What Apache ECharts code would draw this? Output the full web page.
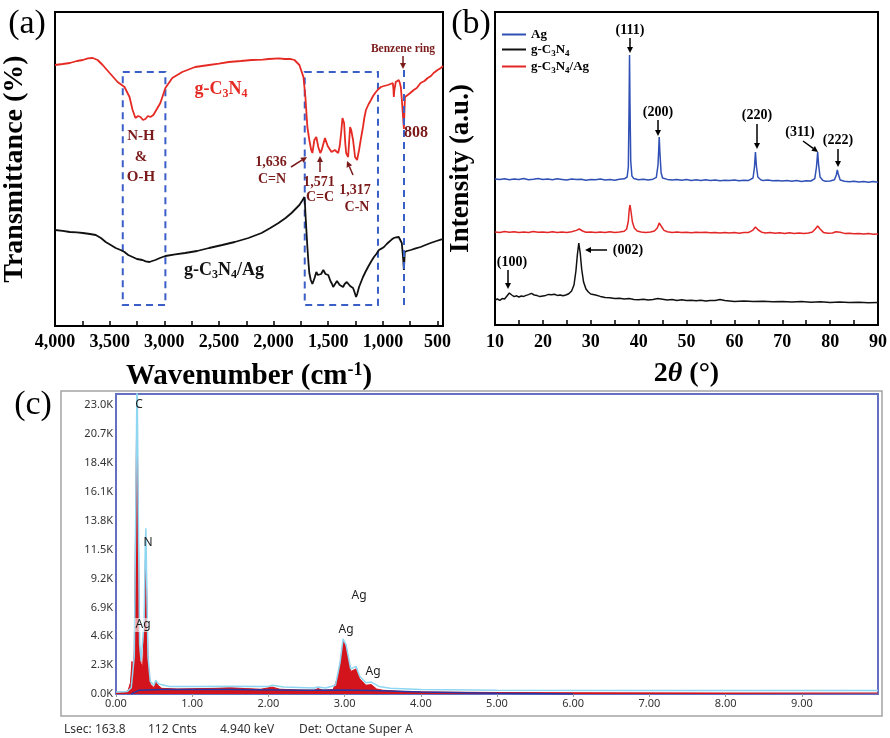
<!DOCTYPE html>
<html><head><meta charset="utf-8">
<script src="https://cdn.jsdelivr.net/npm/echarts@6/dist/echarts.min.js"></script>
<style>html,body{margin:0;padding:0;background:#fff}#c{width:890px;height:738px}</style>
</head><body><div id="c"></div>
<script>
// ---------- Panel (a) FTIR: [wavenumber cm-1, transmittance a.u.] ----------
const ftirGC3N4 = [[4000,130.5],[3930,131],[3864,131.5],[3800,132.5],[3745,133],[3700,133.8],[3655,134],[3610,133],[3564,130.5],[3500,126.5],[3427,122],[3364,119.5],[3318,114.5],[3290,108],[3264,104],[3240,105],[3218,104.5],[3195,103],[3173,103.5],[3150,105],[3127,104.5],[3100,105.5],[3082,106.5],[3036,111.5],[2990,119],[2927,124],[2836,127],[2718,129.5],[2590,130.5],[2500,131.2],[2410,132],[2300,132.5],[2200,133],[2100,133.2],[2045,133.5],[1950,133.8],[1900,133.5],[1850,133.6],[1809,133],[1764,130.5],[1727,124.5],[1709,114.5],[1691,99.5],[1673,93],[1656,88],[1645,86.5],[1636,87],[1627,93],[1609,94.5],[1591,89.5],[1573,86.5],[1560,88],[1545,91],[1530,94],[1518,93],[1505,90],[1491,89.5],[1470,87],[1455,86.5],[1440,88],[1427,89],[1409,86.5],[1395,90],[1382,96.5],[1370,104],[1364,104.5],[1355,101.5],[1345,92],[1336,86.5],[1318,84.5],[1309,92],[1300,99.5],[1290,98],[1273,93],[1262,88],[1255,84.5],[1236,83],[1218,88],[1200,94],[1182,99.5],[1170,104],[1155,108],[1130,111],[1109,113],[1090,115],[1064,117],[1040,118.5],[1018,119.5],[990,120],[955,120.5],[930,121],[909,121.5],[903,118],[900,114.5],[895,118],[882,122],[870,122.5],[855,123],[845,121.5],[836,119.5],[825,112],[815,104],[808,98.5],[803,107],[798,114.5],[790,115],[773,115.5],[750,116.5],[718,118],[690,119],[655,121.5],[620,122.5],[590,124],[560,125],[536,126.5],[500,128],[470,129],[450,130]];
const ftirGC3N4Ag = [[4000,48],[3930,47.6],[3864,47],[3800,46.8],[3745,46.5],[3680,46],[3627,45.5],[3580,44],[3536,42],[3490,40.5],[3445,39],[3400,38],[3364,37],[3330,35.5],[3290,34.5],[3250,33.5],[3200,33],[3170,32.3],[3136,32],[3110,32.5],[3082,33],[3040,34],[2990,35],[2900,35.8],[2810,36.5],[2700,37.5],[2590,39],[2470,40.5],[2355,42],[2230,44],[2110,46.5],[2030,49],[1955,51.5],[1890,54],[1836,56.5],[1800,58.5],[1764,60.5],[1740,62.5],[1718,64.5],[1712,60],[1709,56.5],[1700,48],[1691,39.5],[1680,31],[1673,26.5],[1660,23],[1645,21],[1636,20.5],[1625,24],[1609,27],[1595,25.5],[1582,26.5],[1565,26],[1545,28],[1525,26],[1500,25.5],[1480,22.5],[1465,21],[1455,19.5],[1440,20.5],[1420,22.5],[1409,22],[1395,20.5],[1380,19.8],[1364,19.5],[1350,21],[1330,22],[1318,21.5],[1300,20],[1285,19.8],[1273,19],[1260,17],[1245,14.5],[1235,16],[1218,19.5],[1200,22],[1182,24.5],[1160,27],[1136,29.5],[1110,32],[1082,34.5],[1060,36],[1036,38],[1010,38.8],[990,39.5],[965,41],[945,42],[920,43.2],[900,44],[880,44.3],[855,44.5],[840,43.5],[827,41.5],[815,34],[808,28],[803,33],[800,37],[780,37.5],[745,38],[700,38.8],[655,39.5],[610,40.5],[564,41.5],[510,42.5],[470,43.2],[450,43.5]];
const ftirBoxes = [[3380,127,2990,10.5],[1715,127,1045,10.5]];
const ftirBenzeneLine = [808,10.5,129];
const ftirTickLabels = [4000,3500,3000,2500,2000,1500,1000,500];
const ftirTicks = [500,750,1000,1250,1500,1750,2000,2250,2500,2750,3000,3250,3500,3750,4000];

// ---------- Panel (b) XRD: [2theta deg, intensity a.u.] ----------
const xrdAg = [[10,73],[11,72.7],[12,73.1],[13,72.6],[14,73],[15,72.8],[16,73.2],[17,72.6],[18,72.9],[19,73.3],[20,72.7],[21,73],[22,72.6],[23,73.1],[24,72.8],[25,72.5],[26,73],[27,72.7],[28,72.9],[29,72.4],[30,72.8],[31,72.6],[32,73],[33,72.5],[34,72.8],[35,72.4],[36,72.9],[37,73.1],[37.6,74],[37.85,79],[38.0,108],[38.1,135],[38.2,110],[38.35,82],[38.6,74.5],[39,73.2],[40,72.6],[41,72.9],[42,72.5],[43,72.9],[43.7,73.8],[44.05,80],[44.2,88],[44.3,94],[44.45,86],[44.7,76],[45,73.5],[46,72.8],[47,72.5],[48,72.8],[49,72.4],[50,72.7],[51,72.3],[52,72.6],[53,72.2],[54,72.6],[55,72.3],[56,72.5],[57,72.1],[58,72.4],[59,72.2],[60,72.5],[61,72.1],[62,72.4],[63,72.3],[63.9,73.5],[64.2,79],[64.4,86.5],[64.6,79.5],[64.9,74],[65.5,72.6],[66,72.2],[67,72.5],[68,72.1],[69,72.3],[70,72],[71,72.3],[72,71.9],[73,72.2],[74,71.8],[75,72.1],[76,72],[76.8,73.2],[77.15,79],[77.4,86.5],[77.6,80],[77.9,74],[78.5,72.3],[79,71.9],[80,72],[80.9,72.6],[81.3,75],[81.5,77.5],[81.7,75.5],[82.1,72.5],[83,71.9],[84,71.6],[85,71.9],[86,71.5],[87,71.8],[88,71.4],[89,71.7],[90,71.4]];
const xrdGC3N4Ag = [[10,46.5],[11,46.3],[12,46.7],[13,46.4],[14,46.6],[15,46.2],[16,46.5],[17,46.3],[18,46.7],[19,46.4],[20,46.5],[21,46.2],[22,46.6],[23,46.3],[24,46.5],[25,46.3],[26,46.6],[27,47.3],[27.6,48],[28.3,47],[29,46.4],[30,46.5],[31,46.2],[32,46.5],[33,46.3],[34,46.6],[35,46.3],[36,46.5],[37,46.9],[37.5,48],[37.85,52],[38.05,58],[38.2,60],[38.4,57],[38.7,51.5],[39.1,48.5],[39.7,47],[40.5,46.5],[41.5,46.3],[42.5,46.5],[43.3,47],[43.9,48.5],[44.3,51],[44.7,49.5],[45.3,47.3],[46,46.6],[47,46.3],[48,46.5],[49,46.2],[50,46.4],[51,46.1],[52,46.4],[53,46.2],[54,46.4],[55,46.1],[56,46.3],[57,46],[58,46.3],[59,46],[60,46.2],[61,45.9],[62,46.2],[63,46.3],[63.8,47.3],[64.4,49],[65,47.5],[65.7,46.4],[66.5,46],[67.5,46.2],[68.5,45.9],[69.5,46.1],[70.5,45.8],[71.5,46.1],[72.5,45.8],[73.5,46],[74.5,45.8],[75.5,46],[76.3,46.5],[76.9,48],[77.4,49.5],[77.9,48],[78.6,46.3],[79.5,45.9],[80.5,46],[81.2,46.6],[81.6,47],[82.1,46.4],[83,45.8],[84,45.9],[85,45.6],[86,45.8],[87,45.5],[88,45.7],[89,45.4],[90,45.5]];
const xrdGC3N4 = [[10,12.5],[10.5,13],[11,12.3],[11.5,13.2],[12,13],[12.5,14.5],[13,16],[13.5,15],[14,14.2],[14.5,14.6],[15,14],[15.5,14.5],[16,14.3],[16.5,14.8],[17,15.2],[17.6,15.8],[18.2,15],[18.8,14.7],[19.4,14.2],[20,14.5],[20.6,14.8],[21.2,15.3],[21.8,15.1],[22.4,15.4],[23,14.8],[23.6,15],[24.2,14.6],[24.8,15],[25.4,15.6],[26,17],[26.5,20],[26.9,27],[27.2,35],[27.5,41],[27.8,36],[28.1,28],[28.5,21.5],[29,18],[29.5,16.5],[30,15.5],[31,15],[32,14.3],[33,13.8],[34,13.6],[35,13.2],[36,13.4],[37,13],[38,13.2],[39,12.8],[40,12.6],[41,12.9],[42,12.5],[43,12.8],[44,13.2],[45,12.9],[46,12.5],[47,12.7],[48,12.3],[49,12.6],[50,12.2],[51,12.4],[52,12.1],[53,12.4],[54,12],[55,12.3],[56,12.2],[57,12.7],[58,12.2],[59,12],[60,11.8],[62,12],[64,11.7],[66,11.9],[68,11.6],[70,11.8],[72,11.5],[74,11.7],[76,11.4],[78,11.6],[80,11.3],[82,11.5],[84,11.2],[86,11.4],[88,11.1],[90,11.2]];
const xrdTicks = [10,15,20,25,30,35,40,45,50,55,60,65,70,75,80,85,90];

// ---------- Panel (c) EDS: [energy keV, counts] ----------
const edsCounts = [[0,80],[0.12,100],[0.16,300],[0.19,900],[0.21,2600],[0.225,1200],[0.24,3500],[0.255,12000],[0.27,21000],[0.277,21800],[0.29,15000],[0.31,3500],[0.33,2400],[0.35,2200],[0.37,5000],[0.385,10500],[0.392,11200],[0.40,9000],[0.42,2500],[0.45,800],[0.50,500],[0.52,1000],[0.55,700],[0.60,450],[0.8,400],[1.0,420],[1.3,450],[1.5,500],[1.7,430],[1.9,380],[2.05,550],[2.15,380],[2.4,320],[2.6,300],[2.65,430],[2.72,300],[2.85,350],[2.92,1500],[2.98,4200],[3.02,3800],[3.08,1800],[3.15,2000],[3.2,1200],[3.28,700],[3.35,750],[3.42,400],[3.5,300],[3.8,180],[4.2,150],[5.0,120],[6.0,100],[8.0,80],[10.0,80]];
const edsFit = [[0,150],[0.15,200],[0.2,500],[0.24,3000],[0.26,15000],[0.277,26000],[0.29,16000],[0.31,4000],[0.33,2600],[0.35,2500],[0.37,6000],[0.385,12000],[0.392,13200],[0.40,10000],[0.42,3000],[0.45,1000],[0.5,700],[0.52,1100],[0.56,800],[0.7,600],[1,600],[1.5,620],[2,600],[2.05,700],[2.2,550],[2.6,480],[2.65,550],[2.75,480],[2.88,700],[2.94,2500],[2.98,4400],[3.02,3900],[3.08,2000],[3.15,2200],[3.2,1400],[3.28,900],[3.35,950],[3.45,600],[3.6,450],[4,350],[5,300],[7,280],[10,280]];
const edsBackground = [[0.2,0],[0.25,150],[0.3,300],[0.6,350],[1.5,350],[2.5,300],[3,320],[3.5,250],[4,150],[5,60],[6,0]];
const edsYLabels = [0,2300,4600,6900,9200,11500,13800,16100,18400,20700,23000];
const edsXLabels = [0,1,2,3,4,5,6,7,8,9];

const SERIF = "'Liberation Serif','Times New Roman',serif";
const SANS = "'Noto Sans','Open Sans',sans-serif";
const DR = '#7b1a1a';

function arrow(x1,y1,x2,y2,color){
  const a=Math.atan2(y2-y1,x2-x1), L=6, W=3;
  const bx=x2-L*Math.cos(a), by=y2-L*Math.sin(a);
  const px=-Math.sin(a)*W, py=Math.cos(a)*W;
  return [
    {type:'line', z:100, shape:{x1,y1,x2:bx,y2:by}, style:{stroke:color,lineWidth:1.5}},
    {type:'polygon', z:100, shape:{points:[[x2,y2],[bx+px,by+py],[bx-px,by-py]]}, style:{fill:color}}
  ];
}
function txt(x,y,text,opt){
  return Object.assign({type:'text', z:100, x, y, style:Object.assign({text, align:'center', verticalAlign:'middle', fill:'#000', font:'bold 14px '+SERIF}, opt||{})});
}
const sub = (size,color,weight)=>({n:{fontSize:size,fontFamily:SERIF,fontWeight:weight||'bold',fill:color,lineHeight:size+4},s:{fontSize:Math.round(size*0.65),fontFamily:SERIF,fontWeight:weight||'bold',fill:color,lineHeight:Math.round(size*0.6),verticalAlign:'bottom'}});

const graphics = [
  txt(27,24,'(a)',{font:'34px '+SERIF}),
  txt(471,24,'(b)',{font:'34px '+SERIF}),
  txt(33,405,'(c)',{font:'34px '+SERIF}),
  // (a) annotations
  {type:'text', z:100, x:221, y:89, style:{text:'{n|g-C}{s|3}{n|N}{s|4}', align:'center', verticalAlign:'middle', rich:sub(18,'#e52a24')}},
  {type:'text', z:100, x:224, y:270, style:{text:'{n|g-C}{s|3}{n|N}{s|4}{n|/Ag}', align:'center', verticalAlign:'middle', rich:sub(18,'#111')}},
  txt(141,136,'N-H',{fill:DR,font:'bold 15px '+SERIF}),
  txt(141,157,'&',{fill:DR,font:'bold 15px '+SERIF}),
  txt(141,177,'O-H',{fill:DR,font:'bold 15px '+SERIF}),
  txt(271,162,'1,636',{fill:DR,font:'bold 14px '+SERIF}),
  txt(272,179,'C=N',{fill:DR,font:'bold 14px '+SERIF}),
  txt(319,182,'1,571',{fill:DR,font:'bold 14px '+SERIF}),
  txt(320,197,'C=C',{fill:DR,font:'bold 14px '+SERIF}),
  txt(355,190,'1,317',{fill:DR,font:'bold 14px '+SERIF}),
  txt(357,207,'C-N',{fill:DR,font:'bold 14px '+SERIF}),
  txt(416,133,'808',{fill:DR,font:'bold 16px '+SERIF}),
  txt(403,49,'Benzene ring',{fill:DR,font:'bold 11.5px '+SERIF}),
  ...arrow(291,167,307,157,DR),
  ...arrow(320,172,320,156,DR),
  ...arrow(353,175,347,161,DR),
  ...arrow(403,56,403,69,DR),
  // (b) annotations
  txt(630,30,'(111)'), ...arrow(630,38,630,53,'#000'),
  txt(658,112,'(200)'), ...arrow(658,120,658,136,'#000'),
  txt(757,115,'(220)'), ...arrow(757,124,757,149,'#000'),
  txt(800,132,'(311)'), ...arrow(803,141,818,152,'#000'),
  txt(838,140,'(222)'), ...arrow(838,149,838,167,'#000'),
  txt(512,262,'(100)'), ...arrow(508,270,508,289,'#000'),
  txt(628,250,'(002)'), ...arrow(607,250,585,250,'#000'),
  // (c) frame & labels
  {type:'rect', z:1, shape:{x:61,y:391,width:821,height:325}, style:{fill:'none',stroke:'#a4a4a4',lineWidth:1.5}},
  txt(139,405,'C',{font:'12px '+SANS,fill:'#222'}),
  txt(148,543,'N',{font:'12px '+SANS,fill:'#222'}),
  txt(143,625,'Ag',{font:'12px '+SANS,fill:'#222',backgroundColor:'rgba(255,255,255,0.6)',padding:[1,1]}),
  txt(359,596,'Ag',{font:'12px '+SANS,fill:'#222'}),
  txt(346,630,'Ag',{font:'12px '+SANS,fill:'#222'}),
  txt(373,672,'Ag',{font:'12px '+SANS,fill:'#222'}),
  txt(64,730,'Lsec: 163.8',{font:'12px '+SANS,fill:'#333',align:'left'}),
  txt(148,730,'112 Cnts',{font:'12px '+SANS,fill:'#333',align:'left'}),
  txt(220,730,'4.940 keV',{font:'12px '+SANS,fill:'#333',align:'left'}),
  txt(299,730,'Det: Octane Super A',{font:'12px '+SANS,fill:'#333',align:'left'})
];

const boldSerif = (size)=>({fontFamily:SERIF,fontWeight:'bold',fontSize:size,color:'#000'});
const blackAxisLine = {show:true,lineStyle:{color:'#000',width:2}};

const option = {
  animation:false,
  backgroundColor:'#fff',
  grid:[
    {left:53,top:12,width:390,height:314,show:true,borderColor:'#000',borderWidth:2,backgroundColor:'transparent'},
    {left:495,top:12,width:385,height:313,show:true,borderColor:'#000',borderWidth:2,backgroundColor:'transparent'},
    {left:116,top:394,width:762,height:300,show:true,borderColor:'#6470c2',borderWidth:2,backgroundColor:'transparent'}
  ],
  legend:{
    data:['Ag','g-C3N4','g-C3N4/Ag'], orient:'vertical', left:497, top:23, itemWidth:24, itemHeight:2, itemGap:2, icon:'rect',
    formatter:(n)=> n==='Ag' ? '{n|Ag}' : (n==='g-C3N4' ? '{n|g-C}{s|3}{n|N}{s|4}' : '{n|g-C}{s|3}{n|N}{s|4}{n|/Ag}'),
    textStyle:{rich:{n:{fontSize:13,fontFamily:SERIF,fontWeight:'bold',color:'#000',lineHeight:17},s:{fontSize:9,fontFamily:SERIF,fontWeight:'bold',color:'#000',lineHeight:8,verticalAlign:'bottom'}}}
  },
  xAxis:[
    {gridIndex:0,type:'value',min:450,max:4000,inverse:true,splitLine:{show:false},axisLine:blackAxisLine,
     axisTick:{show:true,inside:true,length:5,customValues:ftirTicks,lineStyle:{color:'#000',width:1.5}},
     axisLabel:Object.assign({customValues:ftirTickLabels,margin:7,formatter:(v)=> v>=1000 ? Math.floor(v/1000)+','+String(v%1000).padStart(3,'0') : String(v)},boldSerif(18)),
     name:'{b|Wavenumber (cm}{sup|-1}{b|)}',nameLocation:'middle',nameGap:35,
     nameTextStyle:{rich:{b:{fontFamily:SERIF,fontWeight:'bold',fontSize:29,color:'#000',lineHeight:32},sup:{fontFamily:SERIF,fontWeight:'bold',fontSize:18,color:'#000',lineHeight:16,verticalAlign:'top'}}}},
    {gridIndex:1,type:'value',min:10,max:90,interval:10,splitLine:{show:false},axisLine:blackAxisLine,
     axisTick:{show:true,inside:true,length:5,customValues:xrdTicks,lineStyle:{color:'#000',width:1.5}},
     axisLabel:Object.assign({margin:8},boldSerif(18)),
     name:'{b|2}{i|θ}{b| (°)}',nameLocation:'middle',nameGap:35,
     nameTextStyle:{rich:{b:{fontFamily:SERIF,fontWeight:'bold',fontSize:28,color:'#000'},i:{fontFamily:SERIF,fontWeight:'bold',fontStyle:'italic',fontSize:28,color:'#000'}}}},
    {gridIndex:2,type:'value',min:0,max:10,splitLine:{show:false},axisLine:{show:false},
     axisTick:{show:true,length:3,customValues:edsXLabels,lineStyle:{color:'#999'}},
     axisLabel:{customValues:edsXLabels,margin:4,fontFamily:SANS,fontSize:11,color:'#333',formatter:(v)=>v.toFixed(2)}}
  ],
  yAxis:[
    {gridIndex:0,type:'value',min:0,max:157,axisLabel:{show:false},axisTick:{show:false},splitLine:{show:false},axisLine:blackAxisLine,
     name:'Transmittance (%)',nameLocation:'middle',nameGap:26,nameRotate:90,nameTextStyle:boldSerif(28)},
    {gridIndex:1,type:'value',min:0,max:156.5,axisLabel:{show:false},axisTick:{show:false},splitLine:{show:false},axisLine:blackAxisLine,
     name:'Intensity (a.u.)',nameLocation:'middle',nameGap:20,nameRotate:90,nameTextStyle:boldSerif(27)},
    {gridIndex:2,type:'value',min:0,max:23900,splitLine:{show:false},axisLine:{show:false},axisTick:{show:false},
     axisLabel:{customValues:edsYLabels,margin:3,fontFamily:SANS,fontSize:11,color:'#333',formatter:(v)=>(v/1000).toFixed(1)+'K'}}
  ],
  series:[
    {name:'FTIR g-C3N4',type:'line',xAxisIndex:0,yAxisIndex:0,data:ftirGC3N4,showSymbol:false,lineStyle:{color:'#e52a24',width:1.8},itemStyle:{color:'#e52a24'},
     markArea:{silent:true,label:{show:false},itemStyle:{color:'rgba(0,0,0,0)',borderColor:'#3b5fc8',borderWidth:2,borderType:[7,5]},
       data:ftirBoxes.map(b=>[{coord:[b[0],b[1]]},{coord:[b[2],b[3]]}])},
     markLine:{silent:true,symbol:['none','none'],label:{show:false},lineStyle:{color:'#3b5fc8',width:2,type:[7,5]},
       data:[[{coord:[ftirBenzeneLine[0],ftirBenzeneLine[1]]},{coord:[ftirBenzeneLine[0],ftirBenzeneLine[2]]}]]}},
    {name:'FTIR g-C3N4/Ag',type:'line',xAxisIndex:0,yAxisIndex:0,data:ftirGC3N4Ag,showSymbol:false,lineStyle:{color:'#111',width:1.8},itemStyle:{color:'#111'}},
    {name:'Ag',type:'line',xAxisIndex:1,yAxisIndex:1,data:xrdAg,showSymbol:false,lineStyle:{color:'#3050b5',width:1.5},itemStyle:{color:'#3050b5'}},
    {name:'g-C3N4',type:'line',xAxisIndex:1,yAxisIndex:1,data:xrdGC3N4,showSymbol:false,lineStyle:{color:'#111',width:1.5},itemStyle:{color:'#111'}},
    {name:'g-C3N4/Ag',type:'line',xAxisIndex:1,yAxisIndex:1,data:xrdGC3N4Ag,showSymbol:false,lineStyle:{color:'#e32626',width:1.5},itemStyle:{color:'#e32626'}},
    {name:'EDS counts',type:'line',xAxisIndex:2,yAxisIndex:2,data:edsCounts,showSymbol:false,lineStyle:{color:'#d4141c',width:1},areaStyle:{color:'#d4141c',opacity:1},itemStyle:{color:'#d4141c'}},
    {name:'EDS background',type:'line',xAxisIndex:2,yAxisIndex:2,data:edsBackground,showSymbol:false,lineStyle:{color:'#2a35a0',width:1.5},itemStyle:{color:'#2a35a0'}},
    {name:'EDS fit',type:'line',xAxisIndex:2,yAxisIndex:2,data:edsFit,showSymbol:false,lineStyle:{color:'#8fd6f2',width:1.5},itemStyle:{color:'#8fd6f2'}}
  ],
  graphic:graphics
};
const chart = echarts.init(document.getElementById('c'),null,{renderer:'canvas'});
chart.setOption(option);
</script></body></html>
